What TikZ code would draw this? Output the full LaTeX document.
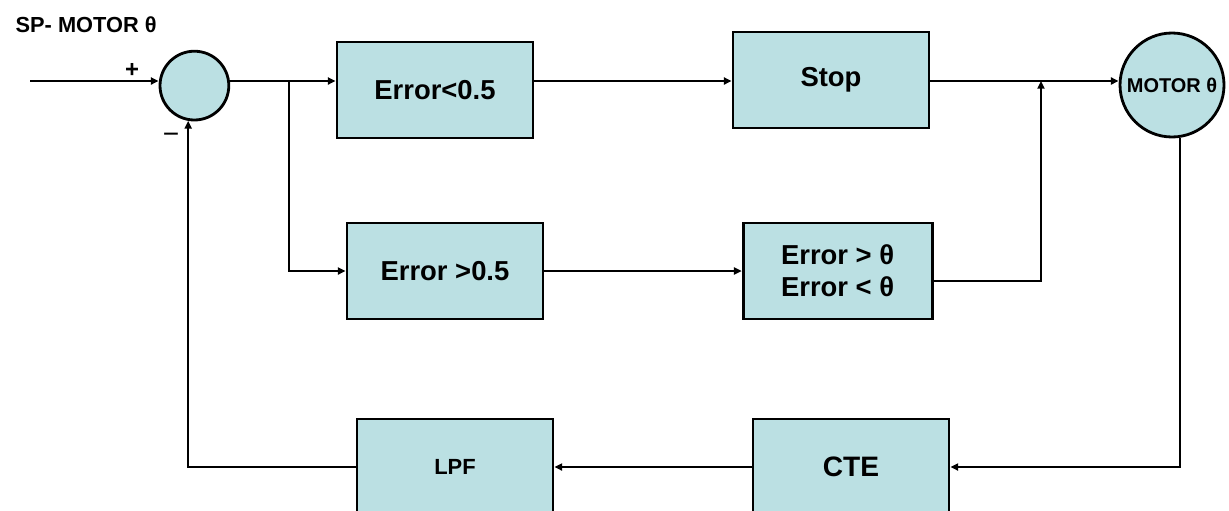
\documentclass[tikz,border=0pt]{standalone}
\usepackage{fontspec}
\setmainfont{Liberation Sans}
\usetikzlibrary{arrows.meta}
\definecolor{boxblue}{RGB}{187,224,227}

\begin{document}
\begin{tikzpicture}[
    >={Triangle[length=5.5pt,width=5pt]},
    line width=1.4pt,
    block/.style={rectangle, draw, line width=2pt, fill=boxblue, minimum width=4.9cm, minimum height=2.4cm, align=center, font=\fontsize{19.5}{23}\selectfont\bfseries},
    junc/.style={circle, draw, line width=2pt, fill=boxblue, inner sep=0pt}
  ]
    \useasboundingbox (0,0) rectangle (30.725,-12.75);

    % タイトル
    \node[anchor=west, font=\fontsize{15.5}{18}\selectfont\bfseries] (title) at (0.25,-0.625) {SP- MOTOR θ};

    % ノード
    \coordinate (in) at (0.75,-2.025);
    \node[junc, minimum size=1.72cm] (sum) at (4.86,-2.14) {};
    \node[font=\fontsize{17}{20}\selectfont\bfseries] (plus) at (3.3,-1.75) {+};
    \node[font=\fontsize{20}{22}\selectfont] (minus) at (4.28,-3.45) {−};
    \coordinate (br) at (7.225,-2.025);
    \node[block] (err1) at (10.875,-2.25) {Error<0.5};
    \node[block] (stop) at (20.775,-2.0) {Stop};
    \node[junc, minimum size=2.6cm, font=\fontsize{14.2}{16}\selectfont\bfseries] (motor) at (29.3,-2.125) {MOTOR θ};
    \coordinate (jn) at (26.025,-2.025);
    \node[block] (err2) at (11.125,-6.775) {Error >0.5};
    \node[block, minimum width=4.725cm] (err3) at (20.94,-6.775) {Error > θ\\ Error < θ};
    \node[block, font=\fontsize{15.6}{18}\selectfont\bfseries] (lpf) at (11.375,-11.675) {LPF};
    \node[block, font=\fontsize{20}{23}\selectfont\bfseries] (cte) at (21.275,-11.675) {CTE};

    % エッジ
    \draw[->] (in) -- (in -| sum.west);
    \draw[->] (sum.east |- in) -- (in -| err1.west);
    \draw[->] (err1.east |- in) -- (in -| stop.west);
    \draw[->] (stop.east |- in) -- (in -| motor.west);
    \draw[->] (br) |- (err2);
    \draw[->] (err2) -- (err3);
    \draw[->] ([yshift=-0.25cm]err3.east) -| (jn);
    \draw[->] (motor.-81) |- (cte);
    \draw[->] (cte) -- (lpf);
    \draw[->] (lpf) -| (sum.-100);
  \end{tikzpicture}
\end{document}
